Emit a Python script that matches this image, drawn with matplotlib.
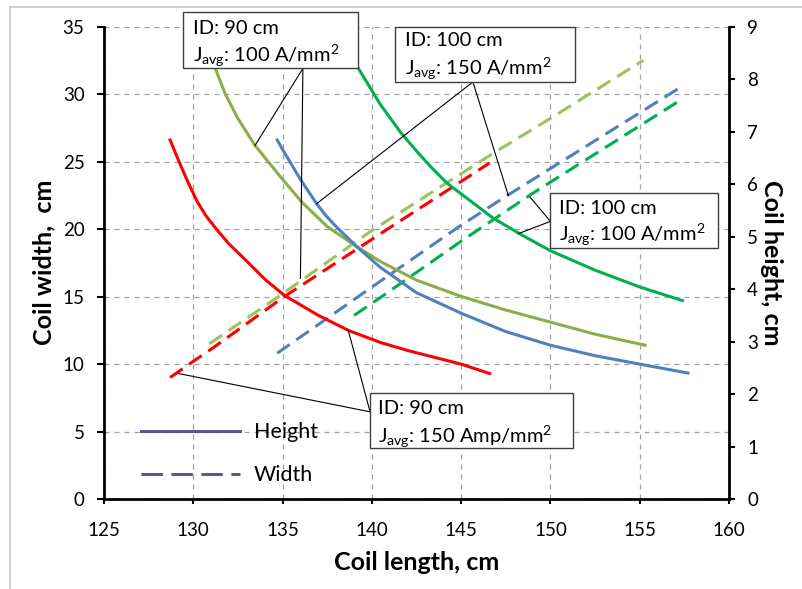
import matplotlib.pyplot as plt
from matplotlib.lines import Line2D
from matplotlib.patches import Rectangle

plt.rcParams['font.family'] = ['Lato', 'DejaVu Sans']
plt.rcParams['mathtext.default'] = 'regular'

# Height curves (right axis, cm) -- solid lines
len_red_h = [128.7, 129.2, 129.7, 130.2, 130.7, 131.3, 132.0, 133.0, 134.0, 135.1, 137.0, 138.7, 140.5, 142.0, 145.0, 146.6]
hgt_red = [6.84, 6.43, 6.04, 5.68, 5.40, 5.14, 4.86, 4.53, 4.19, 3.88, 3.50, 3.21, 2.98, 2.83, 2.57, 2.39]

len_olive_h = [131.2, 131.8, 132.5, 133.45, 135.0, 136.07, 137.5, 139.15, 140.45, 142.5, 145.0, 147.5, 150.0, 152.5, 155.3]
hgt_olive = [8.23, 7.71, 7.25, 6.74, 6.09, 5.66, 5.19, 4.81, 4.53, 4.17, 3.86, 3.60, 3.37, 3.14, 2.93]

len_blue_h = [134.7, 135.0, 136.0, 136.9, 137.4, 138.0, 139.15, 140.45, 142.5, 145.0, 147.5, 150.0, 152.5, 155.0, 157.7]
hgt_blue = [6.84, 6.66, 6.09, 5.63, 5.41, 5.19, 4.81, 4.42, 3.93, 3.54, 3.19, 2.93, 2.73, 2.57, 2.40]

len_green_h = [138.3, 139.2, 140.45, 141.6, 142.5, 143.3, 144.2, 146.8, 148.4, 150.0, 152.5, 155.0, 157.4]
hgt_green = [8.74, 8.23, 7.53, 6.99, 6.63, 6.33, 6.02, 5.35, 5.03, 4.73, 4.36, 4.04, 3.78]

# Width curves (left axis, cm) -- dashed lines
len_red_w = [128.7, 130.0, 131.0, 135.1, 141.0, 146.6]
wid_red = [9.0, 10.2, 11.1, 15.0, 20.1, 24.9]

len_olive_w = [130.9, 135.0, 140.0, 146.9, 150.0, 155.2]
wid_olive = [11.5, 15.2, 19.9, 25.7, 28.2, 32.5]

len_blue_w = [134.7, 140.0, 144.9, 147.6, 157.4]
wid_blue = [10.8, 15.7, 20.2, 22.5, 30.6]

len_green_w = [139.0, 140.45, 145.0, 148.95, 157.4]
wid_green = [13.6, 14.9, 19.1, 22.6, 29.65]

red = '#FF0000'
olive_solid = '#8BAE48'
olive_dash = '#9DC35C'
blue = '#4F81BD'
green = '#00B050'
purple = '#66508F'
dash = (0, (5, 2.6))

fig = plt.figure(figsize=(8.03, 5.89), dpi=100)
ax = fig.add_axes([0.1295, 0.1528, 0.7783, 0.8020])
ax2 = ax.twinx()

ax.set_xlim(125, 160)
ax.set_ylim(0, 35)
ax2.set_ylim(0, 9)
ax.set_xticks(range(125, 161, 5))
ax.set_yticks(range(0, 36, 5))
ax2.set_yticks(range(0, 10))

ax.grid(True, color='#A0A0A0', linestyle=(0, (4, 4)), linewidth=0.9)
ax.set_axisbelow(True)

lw = 2.2
ax.plot(len_red_w, wid_red, color=red, lw=lw, linestyle=dash)
ax.plot(len_olive_w, wid_olive, color=olive_dash, lw=lw, linestyle=dash)
ax.plot(len_blue_w, wid_blue, color=blue, lw=lw, linestyle=dash)
ax.plot(len_green_w, wid_green, color=green, lw=lw, linestyle=dash)

ax2.plot(len_red_h, hgt_red, color=red, lw=lw)
ax2.plot(len_olive_h, hgt_olive, color=olive_solid, lw=lw)
ax2.plot(len_blue_h, hgt_blue, color=blue, lw=lw)
ax2.plot(len_green_h, hgt_green, color=green, lw=lw)

# spines and ticks
for a in (ax, ax2):
    a.spines['top'].set_visible(False)
ax.spines['right'].set_visible(False)
ax2.spines['left'].set_visible(False)
ax2.spines['bottom'].set_visible(False)
ax.spines['left'].set_linewidth(2)
ax.spines['bottom'].set_linewidth(2)
ax2.spines['right'].set_linewidth(2)
ax.tick_params(axis='y', direction='out', length=5, width=1.5, labelsize=13.5, pad=9)
ax.tick_params(axis='x', direction='out', length=3.5, width=1.5, labelsize=13.5, pad=13)
ax2.tick_params(axis='y', direction='out', length=4, width=1.5, labelsize=13.5, pad=9)

ax.set_xlabel('Coil length, cm', fontsize=18, fontweight='bold')
ax.set_ylabel('Coil width,  cm', fontsize=18, fontweight='bold')
ax2.set_ylabel('Coil height, cm', fontsize=18, fontweight='bold', rotation=270)
ax.xaxis.set_label_coords(0.5, -0.11)
ax.yaxis.set_label_coords(-0.077, 0.5)
ax2.yaxis.set_label_coords(1.087, 0.5)

# annotation boxes (left-axis data units), drawn on top of everything
boxes = [
    ((129.42, 31.9), 9.8, 4.15, (129.98, 34.85), (129.98, 32.85),
     'ID: 90 cm', 'J$_{avg}$: 100 A/mm$^{2}$',
     (136.14, 31.9), [(133.46, 26.2), (136.0, 16.35)]),
    ((141.3, 30.9), 10.1, 4.1, (141.86, 33.96), (141.86, 31.9),
     'ID: 100 cm', 'J$_{avg}$: 150 A/mm$^{2}$',
     (145.66, 30.9), [(136.91, 21.88), (147.64, 22.5)]),
    ((150.0, 18.57), 9.38, 4.1, (150.5, 21.53), (150.5, 19.53),
     'ID: 100 cm', 'J$_{avg}$: 100 A/mm$^{2}$',
     (150.0, 20.57), [(148.2, 19.66), (148.86, 22.37)]),
    ((139.9, 3.75), 11.38, 4.07, (140.34, 6.73), (140.34, 4.6),
     'ID: 90 cm', 'J$_{avg}$: 150 Amp/mm$^{2}$',
     (139.9, 6.46), [(129.16, 9.3), (138.68, 12.5)]),
]
for (x0, y0), w, h, p1, p2, t1, t2, anchor, targets in boxes:
    for tx, ty in targets:
        ax2.plot([anchor[0], tx], [anchor[1], ty], color='black', lw=0.8,
                 transform=ax.transData, zorder=5, clip_on=False)
    ax2.add_patch(Rectangle((x0, y0), w, h, facecolor='white', edgecolor='#404040',
                            lw=1.0, transform=ax.transData, zorder=6, clip_on=False))
    ax2.text(p1[0], p1[1], t1, fontsize=14.5, va='center', ha='left',
             transform=ax.transData, zorder=7)
    ax2.text(p2[0], p2[1], t2, fontsize=14.5, va='center', ha='left',
             transform=ax.transData, zorder=7)

handles = [Line2D([], [], color=purple, lw=2.2),
           Line2D([], [], color=purple, lw=2.2, linestyle=(0, (7, 2.8)))]
leg = ax2.legend(handles, ['Height', 'Width'], loc='upper left',
                 bbox_to_anchor=(0.059, 0.162), frameon=False, fontsize=15.5,
                 handlelength=4.6, handletextpad=0.65, labelspacing=1.05,
                 borderpad=0, borderaxespad=0)
leg.set_zorder(8)

# light frame around the chart area
fig.add_artist(Line2D([10 / 803, 1.0], [1 - 7 / 589, 1 - 7 / 589], color='#C8C8C8',
                      lw=1.2, transform=fig.transFigure))
fig.add_artist(Line2D([10 / 803, 10 / 803], [0.0, 1 - 7 / 589], color='#C8C8C8',
                      lw=1.2, transform=fig.transFigure))

fig.savefig('out.png', dpi=100)
